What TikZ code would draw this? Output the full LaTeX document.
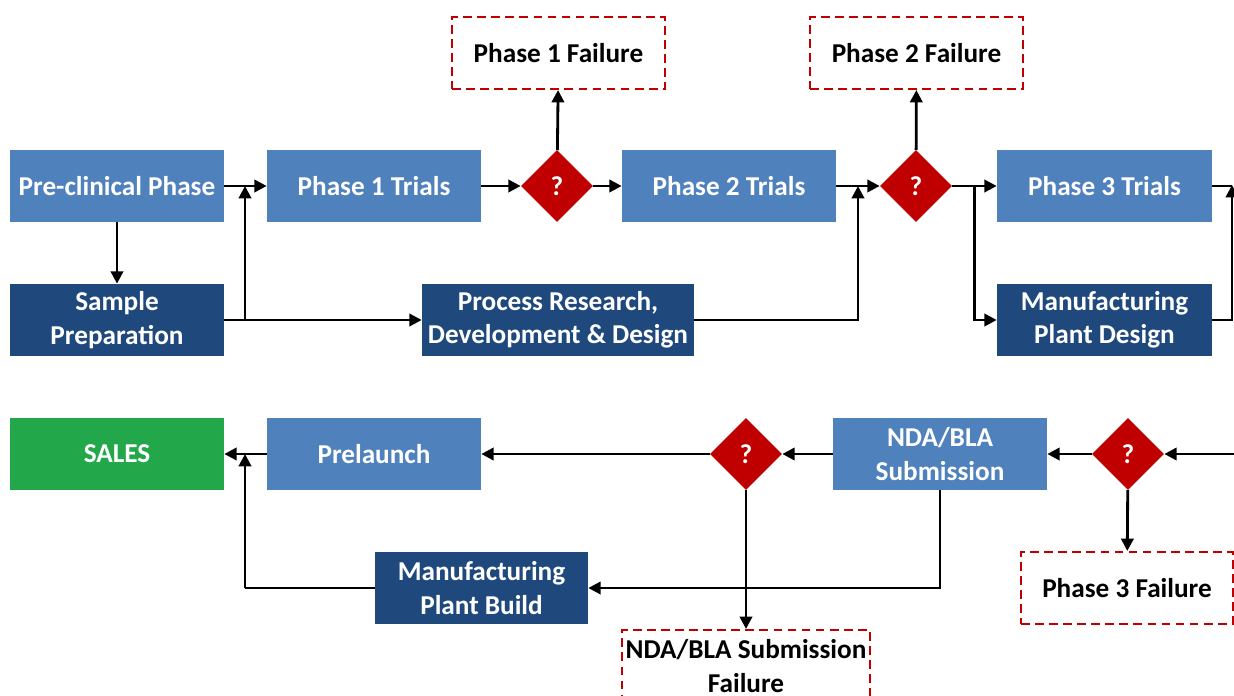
\documentclass[tikz,border=0pt]{standalone}
\usepackage{fontspec}
\setmainfont{Carlito}
\usetikzlibrary{shapes.geometric,arrows.meta,calc}

\definecolor{lightblue}{HTML}{4F81BD}
\definecolor{darkblue}{HTML}{1F497D}
\definecolor{salesgreen}{HTML}{22A84A}
\definecolor{failred}{HTML}{C00000}

\begin{document}
\begin{tikzpicture}[x=0.02cm,y=-0.02cm,
        every node/.style={font=\fontsize{15.5}{19}\selectfont\bfseries,align=center},
        phase/.style={rectangle,fill=lightblue,text=white,minimum width=4.28cm,minimum height=1.44cm,inner sep=2pt},
        support/.style={phase,fill=darkblue},
        sales/.style={phase,fill=salesgreen},
        failure/.style={rectangle,draw=failred,line width=1.2pt,dash pattern=on 5pt off 3pt,text=black,minimum width=4.26cm,minimum height=1.44cm,inner sep=2pt},
        decision/.style={diamond,fill=failred,text=white,minimum size=1.44cm,inner sep=0pt},
        arr/.style={line width=1.6pt,-{Triangle[length=7pt,width=7pt]}},
        line/.style={line width=1.6pt}]
    \useasboundingbox (0,0) rectangle (1234,696);

    % first row
    \node[phase] (pre) at (117,186) {Pre-clinical Phase};
    \node[phase] (p1) at (374,186) {Phase 1 Trials};
    \node[decision] (d1) at (557,186) {?};
    \node[phase] (p2) at (729,186) {Phase 2 Trials};
    \node[decision] (d2) at (916,186) {?};
    \node[phase,minimum width=4.3cm] (p3) at (1104.5,186) {Phase 3 Trials};

    \node[failure] (f1) at (558.5,53) {Phase 1 Failure};
    \node[failure] (f2) at (916.5,53) {Phase 2 Failure};

    % second row
    \node[support] (sp) at (117,320) {Sample\\Preparation};
    \node[support,minimum width=5.44cm] (prd) at (558,320) {Process Research,\\Development \& Design};
    \node[support,minimum width=4.3cm] (mpd) at (1104.5,320) {Manufacturing\\Plant Design};

    % third row
    \node[sales] (sales) at (117,454) {SALES};
    \node[phase] (launch) at (374,454) {Prelaunch};
    \node[decision] (d3) at (746,454) {?};
    \node[phase] (nda) at (940,454) {NDA/BLA\\Submission};
    \node[decision] (d4) at (1128,454) {?};

    % fourth row
    \node[failure,minimum width=4.24cm] (f3) at (1127,588) {Phase 3 Failure};
    \node[support,minimum width=4.26cm] (mpb) at (481.5,588) {Manufacturing\\Plant Build};
    \node[failure,minimum width=4.96cm] (f4) at (746,666) {NDA/BLA Submission\\Failure};

    \coordinate (j1) at (245,320);
    \coordinate (j2) at (245,588);
    \coordinate (j3) at (1232,320);
    \coordinate (inflow) at (1234,454);

    \draw[arr] (pre) -- (p1);
    \draw[arr] (pre) -- (sp);
    \draw[line] (sp) -- (j1);
    \draw[arr] (j1) -- (prd);
    \draw[arr] (j1) -- (j1 |- pre.east);
    \draw[arr] (p1) -- (d1);
    \draw[arr] (d1) -- (f1);
    \draw[arr] (d1) -- (p2);
    \draw[arr] (p2) -- (d2);
    \draw[arr] (prd.east) -| ($(p2.east)!0.5!(d2.west)$);
    \draw[arr] (d2) -- (f2);
    \draw[arr] (d2) -- (p3);
    \draw[arr] ($(d2.east)!0.5!(p3.west)$) |- (mpd.west);
    \draw[line] (p3.east) -- (j3 |- p3.east);
    \draw[arr] (mpd.east) -- (j3) -- ($(j3 |- p3.east)+(0,-1)$);

    \draw[arr] (inflow) -- (d4);
    \draw[arr] (d4) -- (f3);
    \draw[arr] (d4) -- (nda);
    \draw[arr] (nda) -- (d3);
    \draw[arr] (d3) -- (launch);
    \draw[arr] (d3) -- (f4);
    \draw[arr] (nda.south) |- (mpb.east);
    \draw[line] (mpb.west) -- (j2);
    \draw[arr] (j2) -- (j2 |- launch.west);
    \draw[arr] (launch) -- (sales);
\end{tikzpicture}
\end{document}
